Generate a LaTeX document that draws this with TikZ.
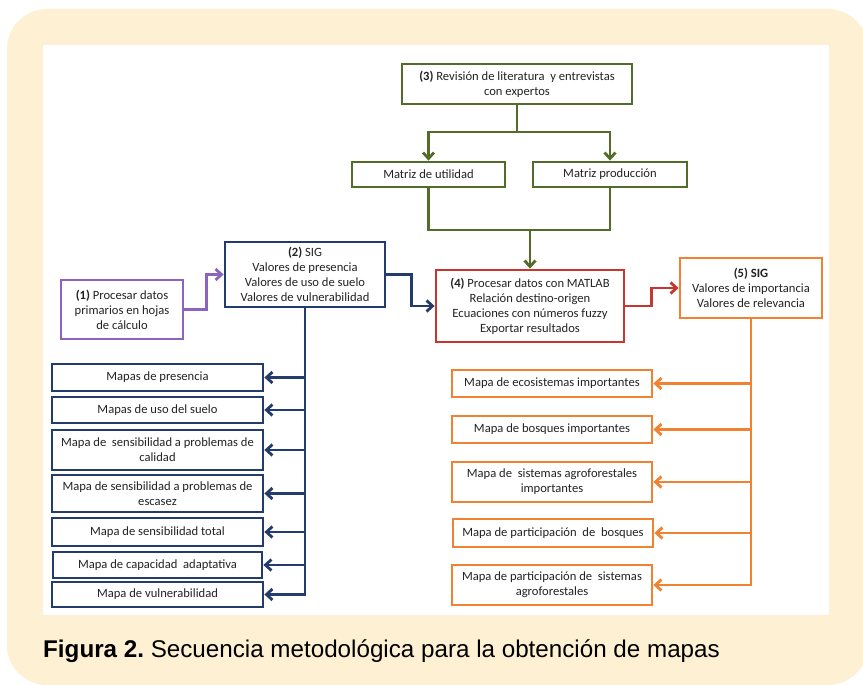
\documentclass[tikz,border=0pt]{standalone}
\usepackage{fontspec}
\setmainfont{Carlito}
\newfontfamily\capfont{Liberation Sans}
\usetikzlibrary{arrows.meta,calc}
\definecolor{cream}{RGB}{254,240,210}
\definecolor{gr}{RGB}{84,108,42}
\definecolor{nv}{RGB}{36,60,108}
\definecolor{pu}{RGB}{140,100,190}
\definecolor{rd}{RGB}{200,55,45}
\definecolor{og}{RGB}{240,130,50}
\definecolor{tx}{RGB}{35,35,35}
\tikzset{
  box/.style={draw, line width=2.8pt, fill=white, inner sep=0pt, align=center,
    font=\fontsize{12.6}{15}\selectfont, text=tx},
  conn/.style={line width=2.8pt},
  arr/.style={conn, -{Straight Barb[length=6pt,width=11pt]}},
}
\begin{document}
\begin{tikzpicture}[x=1pt,y=-1pt]
\useasboundingbox (0,0) rectangle (863,685);
\fill[white] (0,0) rectangle (863,685);
\fill[cream, rounded corners=40pt] (7,9) rectangle (868,685);
\fill[white] (43,45) rectangle (829,615);

% green part
\node[box, draw=gr, minimum width=230pt, minimum height=40pt] (n3) at (517,84)
  {\textbf{(3)} Revisión de literatura \ y entrevistas\\con expertos};
\node[box, draw=gr, minimum width=153pt, minimum height=25pt] (mu) at (428.5,174.5) {Matriz de utilidad};
\node[box, draw=gr, minimum width=154pt, minimum height=25pt] (mp) at (610,174.5) {Matriz producción};
\coordinate (j3) at (517,132);
\coordinate (j4) at (530,230);

% main boxes
\node[box, draw=rd, minimum width=188pt, minimum height=72pt] (n4) at (530,306)
  {\textbf{(4)} Procesar datos con MATLAB\\Relación destino-origen\\Ecuaciones con números fuzzy\\Exportar resultados};
\node[box, draw=og, minimum width=142pt, minimum height=60pt] (n5) at (751,288)
  {\textbf{(5) SIG}\\Valores de importancia\\Valores de relevancia};
\node[box, draw=pu, minimum width=122pt, minimum height=59pt] (n1) at (122,309.5)
  {\textbf{(1)} Procesar datos\\primarios en hojas\\de cálculo};
\node[box, draw=nv, minimum width=160pt, minimum height=65pt] (n2) at (305,274.5)
  {\textbf{(2)} SIG\\Valores de presencia\\Valores de uso de suelo\\Valores de vulnerabilidad};

% blue output boxes
\node[box, draw=nv, minimum width=211pt, minimum height=27pt] (b1) at (157.5,377.5) {Mapas de presencia};
\node[box, draw=nv, minimum width=211pt, minimum height=26pt] (b2) at (157.5,410) {Mapas de uso del suelo};
\node[box, draw=nv, minimum width=211pt, minimum height=40pt] (b3) at (157.5,450) {Mapa de \ sensibilidad a problemas de\\calidad};
\node[box, draw=nv, minimum width=211pt, minimum height=37pt] (b4) at (157.5,493.5) {Mapa de sensibilidad a problemas de\\escasez};
\node[box, draw=nv, minimum width=211pt, minimum height=28pt] (b5) at (157.5,532) {Mapa de sensibilidad total};
\node[box, draw=nv, minimum width=209pt, minimum height=26pt] (b6) at (157.5,565) {Mapa de capacidad \ adaptativa};
\node[box, draw=nv, minimum width=211pt, minimum height=25pt] (b7) at (157.5,594.5) {Mapa de vulnerabilidad};

% orange output boxes
\node[box, draw=og, minimum width=200pt, minimum height=27pt] (o1) at (552,383.5) {Mapa de ecosistemas importantes};
\node[box, draw=og, minimum width=200pt, minimum height=27pt] (o2) at (552,429.5) {Mapa de bosques importantes};
\node[box, draw=og, minimum width=200pt, minimum height=40pt] (o3) at (552,482) {Mapa de \ sistemas agroforestales\\importantes};
\node[box, draw=og, minimum width=200pt, minimum height=28pt] (o4) at (553,533) {Mapa de participación \ de \ bosques};
\node[box, draw=og, minimum width=200pt, minimum height=40pt] (o5) at (552,585) {Mapa de participación de \ sistemas\\agroforestales};

% green connectors
\draw[conn, draw=gr] (n3.south) -- (j3);
\draw[arr, draw=gr] (j3) -| (mu.north);
\draw[arr, draw=gr] (j3) -| (mp.north);
\draw[conn, draw=gr] (mu.south) |- (j4);
\draw[conn, draw=gr] (mp.south) |- (j4);
\draw[arr, draw=gr] (j4) -- (n4.north);

% flow connectors
\draw[arr, draw=pu] (n1.east) -- ++(22,0) |- (n2.west);
\draw[arr, draw=nv] (n2.east) -- ++(25,0) |- (n4.west);
\draw[arr, draw=rd] (n4.east) -- ++(26,0) |- (n5.west);

% blue branch
\draw[arr, draw=nv] (n2.south) |- (b7.east);
\foreach \b in {b1,b2,b3,b4,b5,b6}
  \draw[arr, draw=nv] (n2.south |- \b.east) -- (\b.east);

% orange branch
\draw[arr, draw=og] (n5.south) |- (o5.east);
\foreach \o in {o1,o2,o3,o4}
  \draw[arr, draw=og] (n5.south |- \o.east) -- (\o.east);

% caption
\node[anchor=base west, inner sep=0pt, font=\capfont\fontsize{24.2}{28}\selectfont, text=black] (cap) at (43,657)
  {\frenchspacing\textbf{Figura 2.} Secuencia metodológica para la obtención de mapas};
\end{tikzpicture}
\end{document}
